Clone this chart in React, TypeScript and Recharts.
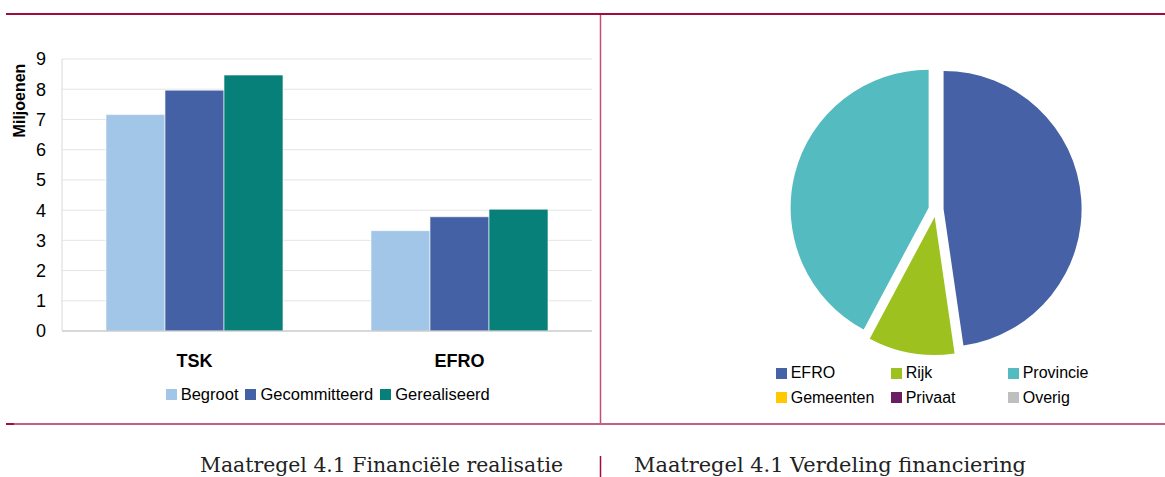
import React from 'react';
import { BarChart, Bar, XAxis, YAxis, CartesianGrid, Legend, PieChart, Pie, Cell, Sector } from 'recharts';

const categories = ['TSK', 'EFRO'];
const begroot = [7.16, 3.32];
const gecommitteerd = [7.97, 3.78];
const gerealiseerd = [8.47, 4.03];
const yTicks = [0, 1, 2, 3, 4, 5, 6, 7, 8, 9];
const barSeries = ['Begroot', 'Gecommitteerd', 'Gerealiseerd'];
const barColors = ['#A1C6E7', '#4561A6', '#08807A'];

const pieLabels = ['EFRO', 'Rijk', 'Provincie', 'Gemeenten', 'Privaat', 'Overig'];
const pieValues = [47.7, 10.1, 42.2, 0, 0, 0];
const pieColors = ['#4661A6', '#9DC11F', '#54BBC0', '#FFC800', '#6B1D63', '#BFBFBF'];

const yAxisTitle = 'Miljoenen';
const captionLeft = 'Maatregel 4.1 Financiële realisatie';
const captionRight = 'Maatregel 4.1 Verdeling financiering';

const barData = categories.map((c, i) => ({
  name: c,
  [barSeries[0]]: begroot[i],
  [barSeries[1]]: gecommitteerd[i],
  [barSeries[2]]: gerealiseerd[i],
}));

const pieData = pieLabels.map((l, i) => ({ name: l, value: pieValues[i] }));

const SANS = '"Liberation Sans", Arial, sans-serif';
const RULE = '#A00D3B';
const RAD = Math.PI / 180;
const EXPLODE = 7.6;

const ExplodedSector = (props: any) => {
  const { cx, cy, midAngle } = props;
  const dx = EXPLODE * Math.cos(-midAngle * RAD);
  const dy = EXPLODE * Math.sin(-midAngle * RAD);
  return <Sector {...props} cx={cx + dx} cy={cy + dy} stroke="none" />;
};

const BarLegend = () => (
  <div style={{ display: 'flex', alignItems: 'center', fontFamily: SANS, fontSize: 16.5, color: '#000', whiteSpace: 'nowrap' }}>
    {barSeries.map((s, i) => (
      <div key={s} style={{ display: 'flex', alignItems: 'center', marginRight: 7 }}>
        <div style={{ width: 11, height: 11, background: barColors[i], marginRight: 4 }} />
        <span>{s}</span>
      </div>
    ))}
  </div>
);

const PieLegend = () => (
  <div style={{ display: 'grid', gridTemplateColumns: '115px 117px 120px', gridAutoRows: '24.5px', fontFamily: SANS, fontSize: 16, color: '#000', whiteSpace: 'nowrap' }}>
    {pieLabels.map((s, i) => (
      <div key={s} style={{ display: 'flex', alignItems: 'center' }}>
        <div style={{ width: 11, height: 11, background: pieColors[i], marginRight: 4 }} />
        <span>{s}</span>
      </div>
    ))}
  </div>
);

const YTitle = (p: any) => {
  const vb = p.viewBox || { x: 0, y: 59 };
  const x = vb.x + 25;
  const y = vb.y + 41.5;
  return (
    <text x={x} y={y} transform={`rotate(-90 ${x} ${y})`} textAnchor="middle" fontFamily={SANS} fontWeight="bold" fontSize={16} fill="#000">
      {yAxisTitle}
    </text>
  );
};

export default function App() {
  return (
    <div style={{ position: 'absolute', left: 0, top: 0, width: 1165, height: 477, background: '#fff', overflow: 'hidden' }}>
      <svg width={1165} height={477} style={{ position: 'absolute', left: 0, top: 0 }}>
        <line x1={6} y1={14} x2={1165} y2={14} stroke={RULE} strokeWidth={2} />
        <line x1={600.5} y1={15} x2={600.5} y2={423} stroke="#C24E70" strokeWidth={1.5} />
        <line x1={6} y1={424} x2={1165} y2={424} stroke="#C4607D" strokeWidth={2} />
        <line x1={6} y1={424} x2={14} y2={424} stroke={RULE} strokeWidth={2} />
        <line x1={600.5} y1={456} x2={600.5} y2={477} stroke={RULE} strokeWidth={1.5} />
        <text x={200} y={472} fontFamily='"DejaVu Serif", serif' fontSize={20.8} fill="#222" textLength={363} lengthAdjust="spacingAndGlyphs">{captionLeft}</text>
        <text x={634} y={472} fontFamily='"DejaVu Serif", serif' fontSize={20.8} fill="#222" textLength={392} lengthAdjust="spacingAndGlyphs">{captionRight}</text>
      </svg>

      <div style={{ position: 'absolute', left: 0, top: 0 }}>
        <BarChart width={600} height={420} data={barData} margin={{ top: 59, right: 8, bottom: 49, left: 0 }} barCategoryGap="16.6%" barGap={0}>
          <CartesianGrid vertical={false} stroke="#E4E4E4" />
          <XAxis
            dataKey="name"
            height={40}
            tickSize={0}
            tickMargin={23}
            axisLine={{ stroke: '#BFBFBF' }}
            tickLine={false}
            tick={{ fontFamily: SANS, fontSize: 18, fontWeight: 'bold', fill: '#000' }}
          />
          <YAxis
            width={62}
            domain={[0, 9]}
            ticks={yTicks}
            interval={0}
            tickSize={0}
            tickMargin={16}
            axisLine={{ stroke: '#D9D9D9' }}
            tickLine={false}
            tick={{ fontFamily: SANS, fontSize: 18, fill: '#000' }}
            label={<YTitle />}
          />
          {barSeries.map((s, i) => (
            <Bar key={s} dataKey={s} fill={barColors[i]} stroke="#ffffff" strokeOpacity={0.6} strokeWidth={1} isAnimationActive={false} />
          ))}
          <Legend verticalAlign="middle" align="center" layout="horizontal" content={<BarLegend />} wrapperStyle={{ left: 165.7, top: 385, width: 360, height: 20 }} />
        </BarChart>
      </div>

      <div style={{ position: 'absolute', left: 600, top: 0 }}>
        <PieChart width={565} height={420} margin={{ top: 0, right: 0, bottom: 0, left: 0 }}>
          <Pie
            data={pieData}
            dataKey="value"
            nameKey="name"
            cx={336}
            cy={209.5}
            outerRadius={138}
            innerRadius={0}
            startAngle={90}
            endAngle={-270}
            stroke="none"
            label={false}
            labelLine={false}
            isAnimationActive={false}
            shape={ExplodedSector}
            activeShape={ExplodedSector}
            inactiveShape={ExplodedSector}
          >
            {pieData.map((d, i) => (
              <Cell key={d.name} fill={pieColors[i]} />
            ))}
          </Pie>
          <Legend verticalAlign="middle" align="center" layout="horizontal" content={<PieLegend />} wrapperStyle={{ left: 175.7, top: 361, width: 360, height: 49 }} />
        </PieChart>
      </div>
    </div>
  );
}
